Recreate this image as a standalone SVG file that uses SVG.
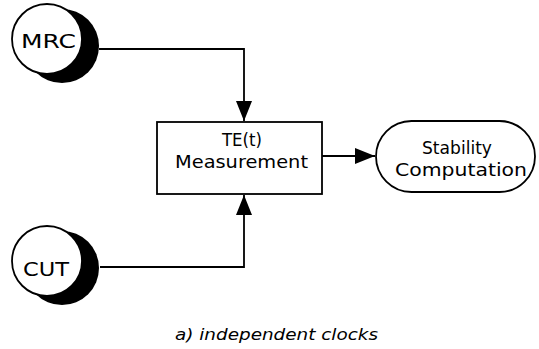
<svg xmlns="http://www.w3.org/2000/svg" width="539" height="349" viewBox="0 0 539 349">
<style>
.ln{fill:none;stroke:#000;stroke-width:1.8}
.node{fill:#fff;stroke:#000;stroke-width:1.8}
.shadow{fill:#000;stroke:none}
.t{font-family:"DejaVu Sans","Liberation Sans",sans-serif;font-size:20px;fill:#000;text-anchor:middle}
.t2{font-family:"DejaVu Sans","Liberation Sans",sans-serif;font-size:18px;fill:#000;text-anchor:middle}
.cap{font-family:"DejaVu Sans","Liberation Sans",sans-serif;font-size:16px;font-style:italic;fill:#000;text-anchor:middle}
</style>
<defs>
<marker id="ah" markerUnits="userSpaceOnUse" markerWidth="20" markerHeight="16" refX="20" refY="8" orient="auto">
<path d="M0,0 L20,8 L0,16 Z" fill="#000"/>
</marker>
</defs>
<rect width="539" height="349" fill="#fff"/>
<g id="connectors">
<path class="ln" d="M99,49 H244 V121" marker-end="url(#ah)"/>
<path class="ln" d="M100,267 H244 V195" marker-end="url(#ah)"/>
<path class="ln" d="M322,156 H375" marker-end="url(#ah)"/>
</g>
<g id="mrc">
<circle class="shadow" cx="62" cy="46" r="37"/>
<circle class="node" cx="47" cy="39" r="35"/>
<text class="t" x="48.5" y="48" textLength="55" lengthAdjust="spacingAndGlyphs">MRC</text>
</g>
<g id="cut">
<circle class="shadow" cx="62" cy="268" r="37"/>
<circle class="node" cx="47" cy="261" r="35"/>
<text class="t" x="46" y="276" textLength="46" lengthAdjust="spacingAndGlyphs">CUT</text>
</g>
<g id="measurement">
<rect class="node" x="157" y="122" width="165" height="72"/>
<text class="t2" x="242" y="146" textLength="40" lengthAdjust="spacingAndGlyphs">TE(t)</text>
<text class="t2" x="241.5" y="168" textLength="133" lengthAdjust="spacingAndGlyphs">Measurement</text>
</g>
<g id="stability">
<rect class="node" x="376" y="121" width="159" height="71" rx="35.5" ry="35.5"/>
<text class="t2" x="457" y="154" textLength="70" lengthAdjust="spacingAndGlyphs">Stability</text>
<text class="t2" x="461" y="176" textLength="132" lengthAdjust="spacingAndGlyphs">Computation</text>
</g>
<text class="cap" x="276.5" y="340" textLength="203" lengthAdjust="spacingAndGlyphs">a) independent clocks</text>
</svg>
